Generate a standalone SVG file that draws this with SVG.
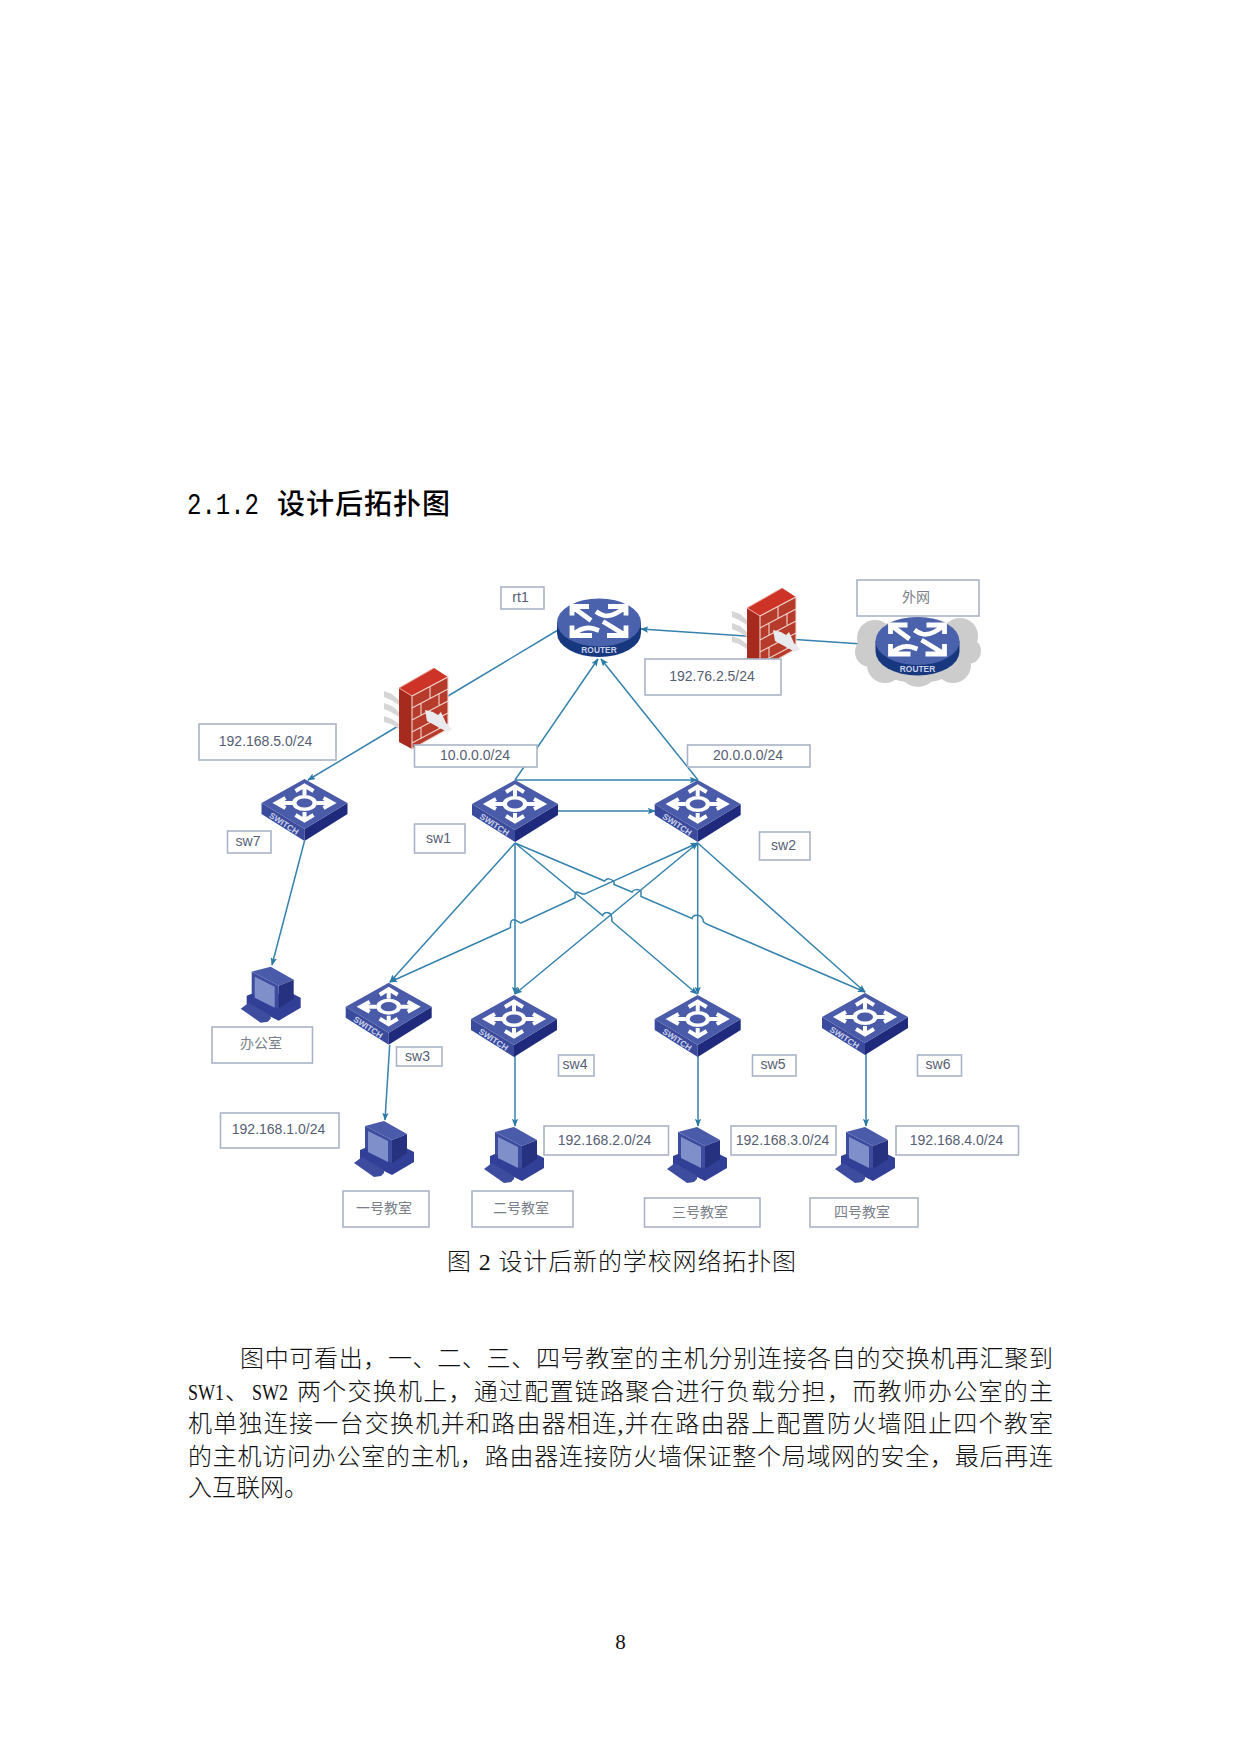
<svg xmlns="http://www.w3.org/2000/svg" xmlns:xlink="http://www.w3.org/1999/xlink" width="1241" height="1754" viewBox="0 0 1241 1754">
<style>
.lb{fill:#fff;stroke:#aab4c8;stroke-width:1.6}
.lt{font:14px "Liberation Sans","Noto Sans CJK SC",sans-serif;fill:#565e74;text-anchor:middle;dominant-baseline:central}
.cn{fill:#7a7f8a}
.c{fill:none;stroke:#3582ad;stroke-width:1.5;marker-end:url(#ah)}
.c0{fill:none;stroke:#3582ad;stroke-width:1.5}
.w{fill:none;stroke:#fff;stroke-width:4}
.w2{fill:none;stroke:#fff;stroke-width:4.8}
.body{font-family:"Liberation Serif","Noto Sans CJK SC",serif;font-size:24px;font-weight:300;fill:#111}
.tag{font:bold 8.4px "Liberation Sans",sans-serif;fill:#c9d0ea}
</style>
<defs>
<marker id="ah" viewBox="0 0 10 8" refX="9" refY="4" markerWidth="8" markerHeight="6.400" markerUnits="userSpaceOnUse" orient="auto"><path d="M0,0L10,4L0,8L2,4Z" fill="#2c7ba6"/></marker>
<marker id="ahs" viewBox="0 0 10 8" refX="9" refY="4" markerWidth="8" markerHeight="6.400" markerUnits="userSpaceOnUse" orient="auto-start-reverse"><path d="M0,0L10,4L0,8L2,4Z" fill="#2c7ba6"/></marker>
<g id="sw">
<path d="M-43,24L0,50V62L-43,35Z" fill="#3a4a9c"/>
<path d="M43,24L0,50V62L43,35Z" fill="#1f2a7c"/>
<path d="M0,0L43,24L0,50L-43,24Z" fill="#4a5ba9"/>
<ellipse cx="0" cy="24" rx="12.500" ry="8" fill="#fff"/>
<ellipse cx="0" cy="24" rx="8" ry="4.600" fill="#4a5ba9"/>
<path class="w" d="M0,16V8M-9,12L0,6.500L9,12M0,33V40M-9,36L0,41.500L9,36M-12,24H-27M-19,19L-28,24L-19,29M12,24H27M19,19L28,24L19,29"/>
</g>
<g id="rt">
<path d="M-42,0V10.500A42,24 0 0 0 42,10.500V0Z" fill="#17377f"/>
<ellipse cx="0" cy="0" rx="42" ry="24" fill="#4a62ac"/>
<path class="w2" d="M-27,-7V-16H-10M-27,-16L-8,-2M27,3V13H8M27,13L4,-1M9,-16H27V-7M27,-16Q14,-5 5,-7Q1,-8 -3,-11M-27,3V13H-7M-27,13Q-16,3 -6,6L0,8"/>
</g>
<g id="fw">
<path d="M-15,3L-7,6L0,12V17L-8,12L-15,9ZM-15,15L-7,18L0,24V29L-8,24L-15,21ZM-15,28L-7,31L0,36V41L-8,36L-15,34Z" fill="#d6d6d6"/>
<path d="M0,0L13,8V61L0,54Z" fill="#a62a1e"/>
<path d="M0,0L35,-20L49,-11L13,8Z" fill="#cd3326"/>
<path d="M13,8L49,-11V41L13,61Z" fill="#b73b2b"/>
<path d="M13,8L49,-11V41L13,61Z M13,20L49,1M13,32L49,13M13,44L49,25M13,55L49,36M31,-1V10M22,15V27M40,5V17M31,22V34M22,39V50M40,29V41" fill="none" stroke="#eed5cf" stroke-width="1.1"/>
<path d="M0,0L13,8M0,0L35,-20" fill="none" stroke="#e9a79f" stroke-width="1"/>
<path d="M26,22L34,24L39,27L42,24L47,35L53,41L48,44L39,39L28,33Z" fill="#e8eaee"/>
</g>
<g id="pc">
<path d="M-24,29V38L8,54L30,41V31L22,27L-19,27Z" fill="#323f97"/>
<path d="M-30,42L-22,36L0,49V52L-3,55L-10,56Z" fill="#3d4c9f"/>
<path d="M-19,5L8,19V42L-19,27Z" fill="#3d4c9f"/>
<path d="M-19,5L0,0L23,13L8,19Z" fill="#4a5ba9"/>
<path d="M8,19L23,13V32L8,42Z" fill="#26327f"/>
<path d="M-16,10L4,20V41L-16,31Z" fill="#7f8fca"/>
</g>
</defs>
<rect width="1241" height="1754" fill="#fff"/>

<g id="connectors">
<path class="c" d="M558,630L448,696L399,725.500L308,780"/>
<path class="c" d="M515,780L598,659"/>
<path class="c" d="M698,780L601,659"/>
<path class="c" d="M877,645L641,629"/>
<path class="c" d="M515,780H697"/>
<path class="c" d="M558,811H655"/>
<path class="c" d="M304.500,841L272,965"/>
<path class="c" d="M515,843L390,982"/>
<path class="c" d="M515,843V994"/>
<path class="c" d="M515,843L602.700,915.500C603,913 606,912 609,913C611,914 611.700,915 612,921.500L697,994"/>
<path class="c" d="M515,843L604.500,881C607,878 611,878 614,882L614,884.500L632,892C634,889 638,889 641,891L641,896.500L692,918.500C693,914 701,914 703,919.500C703,922 704,923 710,925.500L865,992"/>
<path class="c" d="M697.700,843L585,893.900C582,895 580,892 576,892C575,893 575,896 575,898L521,922.900C519,923 518,921 515,920C512,919 510,921 510.500,927.600L390,982" style="marker-start:url(#ahs)"/>
<path class="c" d="M697.700,843L515,994" style="marker-start:url(#ahs)"/>
<path class="c" d="M697.700,843V994"/>
<path class="c" d="M697.700,843L865,992"/>
<path class="c" d="M389.700,1045L385,1120"/>
<path class="c" d="M515,1056V1126"/>
<path class="c" d="M698,1056V1126"/>
<path class="c" d="M866,1054V1126"/>
</g>

<g id="cloud" fill="#cccccc"><ellipse cx="918" cy="650" rx="52" ry="33"/><circle cx="875" cy="638" r="18"/><circle cx="870" cy="652" r="15"/><circle cx="960" cy="636" r="18"/><circle cx="968" cy="651" r="13"/><circle cx="885" cy="665" r="18"/><circle cx="918" cy="668" r="19"/><circle cx="953" cy="665" r="18"/></g>

<g id="rt1" transform="translate(599,622.500)"><use href="#rt"/><text class="tag" x="0" y="30.500" text-anchor="middle">ROUTER</text></g>
<g id="rt2" transform="translate(917.500,641)"><use href="#rt"/><text class="tag" x="0" y="30.500" text-anchor="middle">ROUTER</text></g>
<g id="fw1" transform="translate(399,688)"><use href="#fw"/></g>
<g id="fw2" transform="translate(747,608)"><use href="#fw"/></g>
<g id="sw7" transform="translate(304.500,779)"><use href="#sw"/><text class="tag" transform="translate(-36,38) rotate(33)">SWITCH</text></g>
<g id="sw1" transform="translate(515,780)"><use href="#sw"/><text class="tag" transform="translate(-36,38) rotate(33)">SWITCH</text></g>
<g id="sw2" transform="translate(697.700,780)"><use href="#sw"/><text class="tag" transform="translate(-36,38) rotate(33)">SWITCH</text></g>
<g id="sw3" transform="translate(388.700,982.700)"><use href="#sw"/><text class="tag" transform="translate(-36,38) rotate(33)">SWITCH</text></g>
<g id="sw4" transform="translate(514,995)"><use href="#sw"/><text class="tag" transform="translate(-36,38) rotate(33)">SWITCH</text></g>
<g id="sw5" transform="translate(697.700,995)"><use href="#sw"/><text class="tag" transform="translate(-36,38) rotate(33)">SWITCH</text></g>
<g id="sw6" transform="translate(865,993)"><use href="#sw"/><text class="tag" transform="translate(-36,38) rotate(33)">SWITCH</text></g>
<g id="pc0" transform="translate(270.700,966.700)"><use href="#pc"/></g>
<g id="pc1" transform="translate(384,1121)"><use href="#pc"/></g>
<g id="pc2" transform="translate(514,1127)"><use href="#pc"/></g>
<g id="pc3" transform="translate(697,1127)"><use href="#pc"/></g>
<g id="pc4" transform="translate(865,1127)"><use href="#pc"/></g>

<g id="l-rt1"><rect class="lb" x="501" y="587" width="43" height="22"/><text class="lt" x="520.500" y="597">rt1</text></g>
<g id="l-wai"><rect class="lb" x="857" y="580" width="122" height="36"/><text class="lt cn" x="916" y="597">外网</text></g>
<g id="l-n5"><rect class="lb" x="199" y="724" width="137" height="36"/><text class="lt" x="265.500" y="741">192.168.5.0/24</text></g>
<g id="l-n10"><rect class="lb" x="414.500" y="745" width="122.500" height="22"/><text class="lt" x="475" y="755">10.0.0.0/24</text></g>
<g id="l-n20"><rect class="lb" x="687.500" y="745" width="122.500" height="22"/><text class="lt" x="748" y="755">20.0.0.0/24</text></g>
<g id="l-n192"><rect class="lb" x="645" y="659" width="136" height="36"/><text class="lt" x="712" y="676">192.76.2.5/24</text></g>
<g id="l-sw7"><rect class="lb" x="227.500" y="831" width="43.500" height="22"/><text class="lt" x="248" y="841">sw7</text></g>
<g id="l-sw1"><rect class="lb" x="414.500" y="824" width="50.500" height="29"/><text class="lt" x="438.500" y="838">sw1</text></g>
<g id="l-sw2"><rect class="lb" x="759.500" y="832" width="50.500" height="28"/><text class="lt" x="783.500" y="845">sw2</text></g>
<g id="l-sw3"><rect class="lb" x="396.500" y="1047" width="45.500" height="19"/><text class="lt" x="417.500" y="1056">sw3</text></g>
<g id="l-sw4"><rect class="lb" x="558.500" y="1055" width="35.500" height="21"/><text class="lt" x="575" y="1064">sw4</text></g>
<g id="l-sw5"><rect class="lb" x="752.500" y="1055" width="43.500" height="21"/><text class="lt" x="773" y="1064">sw5</text></g>
<g id="l-sw6"><rect class="lb" x="917.500" y="1055" width="44" height="21"/><text class="lt" x="938" y="1064">sw6</text></g>
<g id="l-office"><rect class="lb" x="212" y="1027" width="100.500" height="36"/><text class="lt cn" x="261" y="1043">办公室</text></g>
<g id="l-n1"><rect class="lb" x="220.500" y="1113" width="118.500" height="35"/><text class="lt" x="278.500" y="1129">192.168.1.0/24</text></g>
<g id="l-n2"><rect class="lb" x="544" y="1126" width="124.500" height="29"/><text class="lt" x="604.500" y="1140">192.168.2.0/24</text></g>
<g id="l-n3"><rect class="lb" x="731" y="1126" width="105" height="29"/><text class="lt" x="782.500" y="1140">192.168.3.0/24</text></g>
<g id="l-n4"><rect class="lb" x="896" y="1126" width="122.500" height="29"/><text class="lt" x="956.500" y="1140">192.168.4.0/24</text></g>
<g id="l-c1"><rect class="lb" x="343" y="1191" width="86" height="36"/><text class="lt cn" x="384" y="1208">一号教室</text></g>
<g id="l-c2"><rect class="lb" x="472" y="1191" width="101" height="36"/><text class="lt cn" x="521" y="1208">二号教室</text></g>
<g id="l-c3"><rect class="lb" x="644.500" y="1198" width="115.500" height="29"/><text class="lt cn" x="700" y="1212">三号教室</text></g>
<g id="l-c4"><rect class="lb" x="810" y="1198" width="108" height="29"/><text class="lt cn" x="862" y="1212">四号教室</text></g>

<text transform="translate(187,514) scale(1,1.25)" font-family="Liberation Mono,monospace" font-size="24" fill="#000">2.1.2</text>
<text x="277" y="514" textLength="173" font-family="Noto Sans CJK SC,sans-serif" font-size="28" font-weight="500" fill="#000">设计后拓扑图</text>
<text class="body" x="447" y="1270" textLength="349">图 2 设计后新的学校网络拓扑图</text>
<text class="body" x="240" y="1367" textLength="813">图中可看出，一、二、三、四号教室的主机分别连接各自的交换机再汇聚到</text>
<text class="body" transform="translate(188,1400) scale(.75,1)">SW1</text>
<text class="body" x="225" y="1400">、</text>
<text class="body" transform="translate(252,1400) scale(.75,1)">SW2</text>
<text class="body" x="297" y="1400" textLength="756">两个交换机上，通过配置链路聚合进行负载分担，而教师办公室的主</text>
<text class="body" x="188" y="1432" textLength="865">机单独连接一台交换机并和路由器相连,并在路由器上配置防火墙阻止四个教室</text>
<text class="body" x="188" y="1464.500" textLength="865">的主机访问办公室的主机，路由器连接防火墙保证整个局域网的安全，最后再连</text>
<text class="body" x="188" y="1496">入互联网。</text>
<text x="620.500" y="1649" font-family="Liberation Serif,serif" font-size="21" text-anchor="middle" fill="#111">8</text>
</svg>
